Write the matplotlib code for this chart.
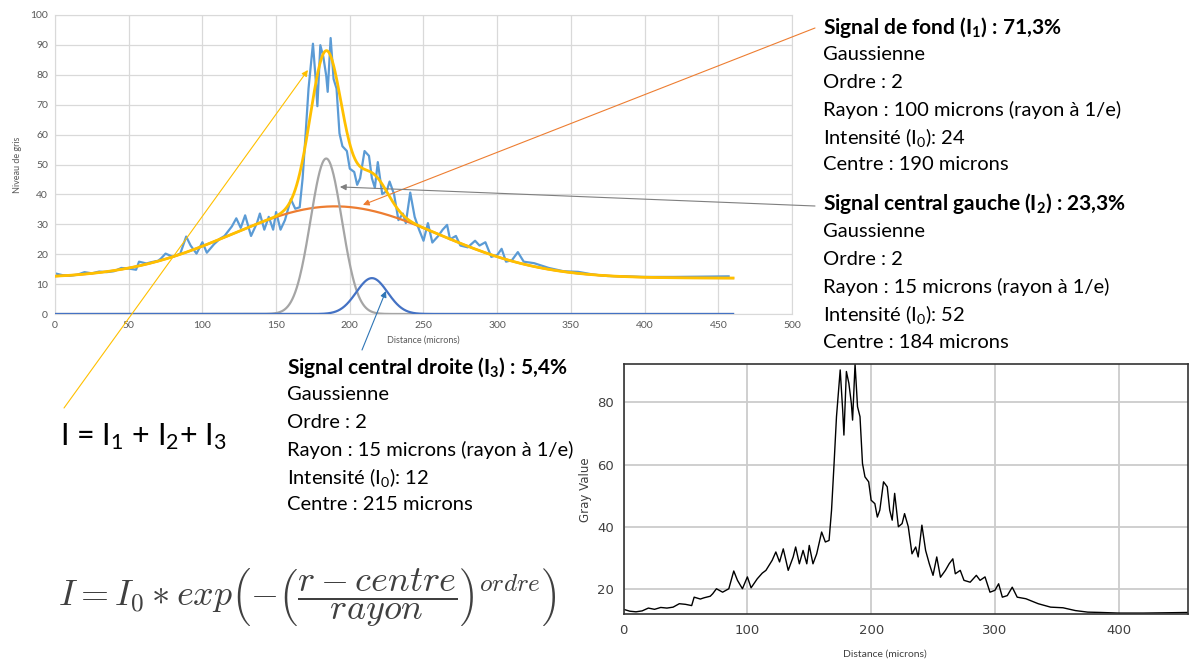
import numpy as np
import matplotlib.pyplot as plt

plt.rcParams['font.family'] = ['Lato', 'DejaVu Sans']
plt.rcParams['mathtext.fontset'] = 'custom'
plt.rcParams['mathtext.rm'] = 'Lato'
plt.rcParams['mathtext.bf'] = 'Lato:bold'
plt.rcParams['mathtext.it'] = 'Lato:italic'

W, H = 1193, 663

dist = [0, 5, 10, 15, 20, 25, 30, 35, 40, 45, 50, 55, 57, 62, 65, 70, 72, 75, 80, 85,
        89, 92, 96, 100, 103, 108, 112, 115, 120, 123, 126, 129, 133, 137, 139, 142,
        145, 148, 150, 153, 156, 160, 163, 166, 168, 170, 172, 175, 177, 178, 180, 182,
        184, 185, 187, 189, 191, 193, 195, 198, 200, 203, 205, 207, 210, 213, 215, 217,
        219, 222, 225, 227, 230, 233, 236, 238, 241, 244, 247, 250, 253, 256, 260, 263,
        266, 268, 272, 275, 280, 285, 288, 292, 296, 300, 303, 306, 310, 314, 318, 325,
        335, 345, 355, 365, 375, 385, 400, 420, 440, 457]
gris = [13.6, 13.0, 12.8, 13.1, 14.0, 13.6, 14.2, 14.0, 14.3, 15.4, 15.2, 14.8, 17.5,
        16.9, 17.3, 17.8, 18.6, 20.2, 19.1, 20.2, 25.9, 22.9, 20.2, 24.0, 20.5, 23.4,
        25.2, 26.1, 29.3, 32.0, 28.8, 33.0, 26.1, 30.4, 33.6, 28.2, 32.5, 28.2, 34.1,
        28.2, 31.4, 38.4, 35.2, 35.7, 45.4, 60.0, 75.4, 90.4, 77.5, 69.5, 89.9, 86.1,
        79.7, 74.3, 92.3, 78.6, 75.4, 60.4, 56.1, 54.5, 48.6, 47.5, 43.2, 45.4, 54.5,
        52.9, 45.4, 42.2, 50.8, 40.1, 41.1, 44.3, 40.1, 31.4, 33.6, 30.4, 40.6, 32.5,
        28.2, 24.5, 30.4, 23.9, 26.1, 28.2, 29.8, 25.0, 26.1, 22.9, 22.3, 24.5, 22.9,
        24.0, 19.1, 19.7, 21.8, 17.5, 18.0, 20.7, 17.5, 17.0, 15.4, 14.3, 14.1, 13.2,
        12.7, 12.6, 12.4, 12.4, 12.5, 12.6]

# paramètres des gaussiennes (I1 fond, I2 central gauche, I3 central droite)
intensite = [24, 52, 12]
centre = [190, 184, 215]
rayon = [100, 15, 15]
ordre = [2, 2, 2]
niveau_fond = 12
couleurs = ['#ED7D31', '#A5A5A5', '#4472C4']

r = np.linspace(0, 460, 921)
comp = [i0 * np.exp(-((r - c) / ra) ** o) for i0, c, ra, o in zip(intensite, centre, rayon, ordre)]
comp[0] = comp[0] + niveau_fond
total = comp[0] + comp[1] + comp[2]

fig = plt.figure(figsize=(W / 100, H / 100), dpi=100)

# graphe du haut (modèle)
ax1 = fig.add_axes([55 / W, 1 - 314 / H, 737 / W, 299 / H])
ax1.plot(dist, gris, color='#5B9BD5', lw=1.6, zorder=2)
for c, col in zip(comp, couleurs):
    ax1.plot(r, c, color=col, lw=1.6, zorder=3)
ax1.plot(r, total, color='#FFC000', lw=2, zorder=4)
ax1.set_xlim(0, 500)
ax1.set_ylim(0, 100)
ax1.set_xticks(range(0, 501, 50))
ax1.set_yticks(range(0, 101, 10))
ax1.grid(color='#d9d9d9', lw=0.9)
ax1.set_axisbelow(True)
for s in ax1.spines.values():
    s.set_color('#d9d9d9')
ax1.tick_params(length=0, labelsize=7.5, labelcolor='#595959', pad=5)
fig.text(423 / W, 1 - 340 / H, 'Distance (microns)', fontsize=6.5, color='#595959', ha='center', va='center')
fig.text(17 / W, 1 - 165 / H, 'Niveau de gris', fontsize=6.5, color='#595959', ha='center', va='center', rotation=90)

# flèches
fleches = [((171.6, 81.6), (64, 408), '#FFC000'),
           ((208.9, 36.5), (815, 28), '#ED7D31'),
           ((193.3, 42.5), (815, 206), '#7F7F7F'),
           ((224.5, 7.7), (362, 350), '#2E75B6')]
for xy, (tx, ty), col in fleches:
    ax1.annotate('', xy=xy, xytext=(tx, H - ty), textcoords='figure pixels',
                 arrowprops=dict(arrowstyle='-|>', color=col, lw=0.8, mutation_scale=9,
                                 shrinkA=0, shrinkB=0), annotation_clip=False)

# graphe du bas (profil brut)
ax2 = fig.add_axes([623.6 / W, 1 - 614 / H, 564.4 / W, 250 / H])
ax2.plot(dist, gris, color='black', lw=1)
ax2.set_xlim(0, 456)
ax2.set_ylim(12.1, 92.3)
ax2.set_xticks(range(0, 401, 100))
ax2.set_yticks(range(20, 81, 20))
ax2.grid(color='#cccccc', lw=1.3)
ax2.set_axisbelow(True)
for s in ax2.spines.values():
    s.set_color('#333333')
    s.set_linewidth(1.2)
ax2.tick_params(length=0, labelcolor='#404040', pad=7)
for lab in ax2.get_xticklabels() + ax2.get_yticklabels():
    lab.set_family('DejaVu Sans')
    lab.set_fontsize(9.5)
fig.text(885 / W, 1 - 654 / H, 'Distance (microns)', fontsize=7.5, color='#404040', ha='center', va='center')
fig.text(586 / W, 1 - 490 / H, 'Gray Value', fontsize=8.5, color='#404040', ha='center', va='center',
         rotation=90, family='DejaVu Sans')

# textes
def bloc(x, y, titre, lignes):
    fig.text(x / W, 1 - y / H, titre, fontsize=15, fontweight='bold', va='center')
    for k, l in enumerate(lignes):
        fig.text(x / W, 1 - (y + 27.6 * (k + 1)) / H, l, fontsize=14.5, va='center')

bloc(823, 27, r'Signal de fond (I$_\mathbf{1}$) : 71,3%',
     ['Gaussienne', 'Ordre : 2', 'Rayon : 100 microns (rayon à 1/e)',
      r'Intensité (I$_0$): 24', 'Centre : 190 microns'])
bloc(823, 204, r'Signal central gauche (I$_\mathbf{2}$) : 23,3%',
     ['Gaussienne', 'Ordre : 2', 'Rayon : 15 microns (rayon à 1/e)',
      r'Intensité (I$_0$): 52', 'Centre : 184 microns'])
bloc(287, 367, r'Signal central droite (I$_\mathbf{3}$) : 5,4%',
     ['Gaussienne', 'Ordre : 2', 'Rayon : 15 microns (rayon à 1/e)',
      r'Intensité (I$_0$): 12', 'Centre : 215 microns'])

fig.text(60 / W, 1 - 437 / H, r'I = I$_1$ + I$_2$+ I$_3$', fontsize=22, va='center')
fig.text(307 / W, 1 - 597 / H,
         r'$I = I_0 * exp\left(-\left(\dfrac{r - centre}{rayon}\right)^{ordre}\right)$',
         math_fontfamily='cm', fontsize=26, color='#404040', ha='center', va='center')

fig.savefig('out.png', dpi=100)
